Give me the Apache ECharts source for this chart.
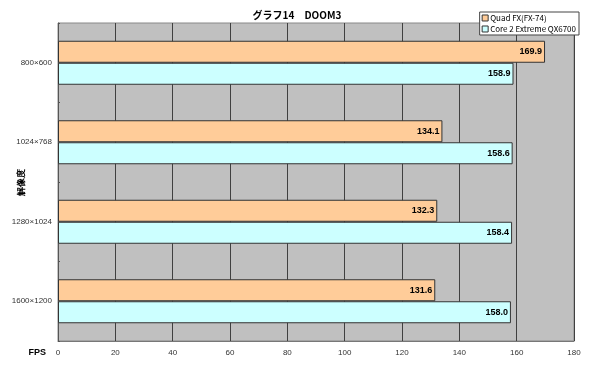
<!DOCTYPE html>
<html><head><meta charset="utf-8">
<script src="https://cdn.jsdelivr.net/npm/echarts@6/dist/echarts.min.js"></script>
<style>html,body{margin:0;padding:0;background:#fff}#c{width:600px;height:373px}</style>
</head><body><div id="c"></div>
<script>
const categories = ['800×600', '1024×768', '1280×1024', '1600×1200'];
const quadFX = [169.9, 134.1, 132.3, 131.6];
const core2 = [158.9, 158.6, 158.4, 158.0];
const seriesNames = ['Quad FX(FX-74)', 'Core 2 Extreme QX6700'];
const xTicks = {min: 0, max: 180, interval: 20};

const chart = echarts.init(document.getElementById('c'), null, {renderer: 'canvas'});
const font = '"MS PGothic","Noto Sans CJK JP",sans-serif';
const lbl = {show: true, position: 'insideRight', color: '#000', fontWeight: 'bold', fontSize: 9, fontFamily: 'Liberation Sans, Arial, sans-serif', formatter: p => p.value.toFixed(1), distance: 3};
chart.setOption({
  animation: false,
  title: {text: 'グラフ14　DOOM3', left: 292, textAlign: 'center', top: 5,
    textStyle: {fontSize: 10, fontWeight: 'bold', color: '#000', fontFamily: font}},
  legend: {right: 21, top: 12, orient: 'vertical', itemWidth: 6, itemHeight: 6, itemGap: 3,
    backgroundColor: '#fff', borderColor: '#444', borderWidth: 1, padding: [2, 3, 2, 2],
    textStyle: {fontSize: 8, color: '#000', fontFamily: font, padding: [0, 0, 0, -3]},
    data: seriesNames.map(n => ({name: n, icon: 'rect', itemStyle: {borderColor: '#333', borderWidth: 1}}))},
  grid: {left: 58, right: 26, top: 23, bottom: 32, show: true, backgroundColor: '#c0c0c0', borderColor: '#888', borderWidth: 1,
    containLabel: false, outerBoundsMode: 'none'},
  xAxis: {type: 'value', min: xTicks.min, max: xTicks.max, interval: xTicks.interval,
    name: 'FPS', nameLocation: 'start', nameGap: 12, nameMoveOverlap: false,
    nameTextStyle: {fontWeight: 'bold', fontSize: 9, color: '#000', verticalAlign: 'top', padding: [7, 0, 0, 0]},
    axisLine: {show: true, lineStyle: {color: '#777'}}, axisTick: {show: false},
    axisLabel: {fontSize: 8, color: '#333', margin: 8},
    splitLine: {show: true, lineStyle: {color: '#404040', width: 1}}},
  yAxis: {type: 'category', data: categories, inverse: true,
    name: '解像度', nameLocation: 'middle', nameGap: 32, nameRotate: 90, nameMoveOverlap: false,
    nameTextStyle: {fontWeight: 'bold', fontSize: 9, color: '#000'},
    axisLine: {show: true, lineStyle: {color: '#555'}},
    axisTick: {show: true, length: 2, inside: true, lineStyle: {color: '#555'}},
    axisLabel: {fontSize: 8, color: '#333', margin: 6}},
  series: [
    {name: seriesNames[0], type: 'bar', data: quadFX, barWidth: 22, barGap: '0%',
      itemStyle: {color: '#ffcc99', borderColor: '#333', borderWidth: 1}, label: lbl},
    {name: seriesNames[1], type: 'bar', data: core2, barWidth: 22, barGap: '0%',
      itemStyle: {color: '#ccffff', borderColor: '#333', borderWidth: 1}, label: lbl}
  ]
});
</script></body></html>
